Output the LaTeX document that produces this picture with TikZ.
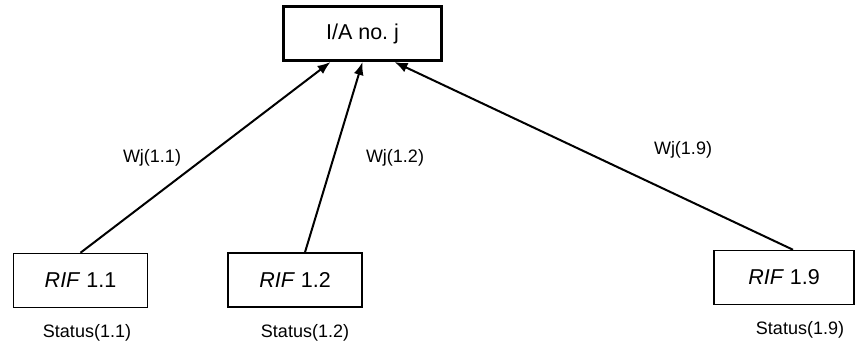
\documentclass[tikz,border=0pt]{standalone}
\usepackage{fontspec}
\setmainfont{Liberation Sans}
\usetikzlibrary{arrows.meta}

\tikzset{
  iabox/.style={draw, line width=3pt, minimum width=158pt, minimum height=54pt,
    font=\fontsize{21.5}{25}\selectfont},
  rifbox/.style={draw, line width=1.5pt, minimum width=134pt, minimum height=54pt,
    font=\fontsize{21.5}{25}\selectfont},
  weight/.style={font=\fontsize{18}{21}\selectfont},
  link/.style={line width=2pt, -{Latex[length=13pt,width=10pt]}}
}

\begin{document}
\begin{tikzpicture}[x=1pt, y=-1pt]
    \useasboundingbox (0,0) rectangle (857,348);

    % I/A node on top
    \node[iabox] (ia) at (362.5,33.5) {I/A no.\ j};

    % RIF nodes
    \node[rifbox] (rif11) at (80.5,280.5) {\textit{RIF} 1.1};
    \node[rifbox] (rif12) at (295,280) {\textit{RIF} 1.2};
    \node[rifbox, minimum width=140pt] (rif19) at (784,277.5) {\textit{RIF} 1.9};

    % weighted links
    \draw[link] (rif11.north) -- ([xshift=-32pt]ia.south);
    \draw[link] ([xshift=10pt]rif12.north) -- (ia.south);
    \draw[link] ([xshift=9pt]rif19.north) -- ([xshift=32pt]ia.south);

    \node[weight] (w11) at (152,158) {Wj(1.1)};
    \node[weight] (w12) at (395,158) {Wj(1.2)};
    \node[weight] (w19) at (683,150) {Wj(1.9)};

    % status of each RIF
    \node[weight] (s11) at (87,333) {Status(1.1)};
    \node[weight] (s12) at (305,333) {Status(1.2)};
    \node[weight] (s19) at (800,330) {Status(1.9)};
\end{tikzpicture}
\end{document}
